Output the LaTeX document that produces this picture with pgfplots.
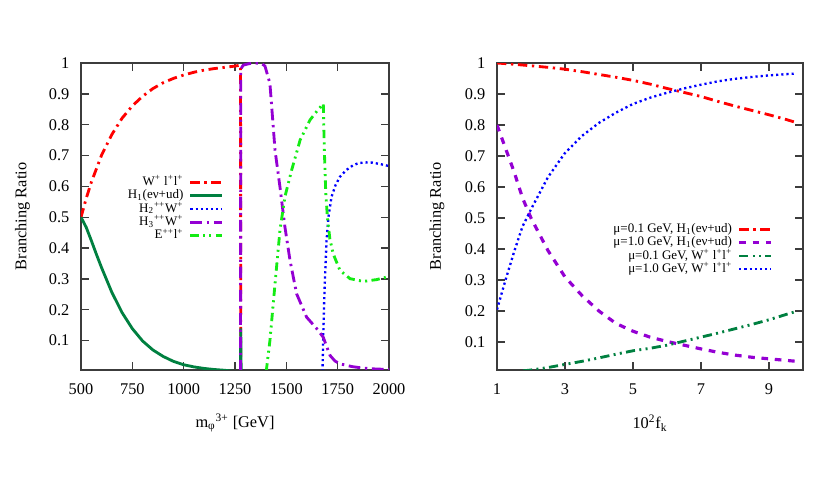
\documentclass[border=0pt]{standalone}
\usepackage{fontspec}
\setmainfont{Liberation Serif}
\usepackage{pgfplots}
\pgfplotsset{compat=1.18}

\definecolor{gpred}{RGB}{255,0,0}
\definecolor{gpdkgreen}{RGB}{0,128,64}
\definecolor{gpblue}{RGB}{0,0,255}
\definecolor{gpviolet}{RGB}{148,0,211}
\definecolor{gpgreen}{RGB}{20,235,20}
\definecolor{gpborder}{RGB}{60,60,60}

\tikzset{
  sred/.style={gpred, line width=1.7pt, dash pattern=on 5.6pt off 2.8pt on 1.4pt off 2.8pt},
  sdkgreen/.style={gpdkgreen, line width=1.7pt},
  sblue/.style={gpblue, line width=1.4pt, dash pattern=on 1.3pt off 1.8pt},
  sviolet/.style={gpviolet, line width=1.7pt, dash pattern=on 7pt off 2.8pt on 1.4pt off 2.8pt},
  sgreen/.style={gpgreen, line width=1.7pt, dash pattern=on 5pt off 2.6pt on 1.2pt off 2.6pt on 1.2pt off 2.6pt},
  svdash/.style={gpviolet, line width=1.9pt, dash pattern=on 4pt off 4pt},
  sdgdd/.style={gpdkgreen, line width=1.7pt, dash pattern=on 5.5pt off 2.6pt on 1.2pt off 2.6pt on 1.2pt off 2.6pt},
}

\pgfplotsset{
  gp/.style={
    scale only axis,
    ymin=0.01, ymax=1,
    ytick={0.1,0.2,0.3,0.4,0.5,0.6,0.7,0.8,0.9,1},
    yticklabels={0.1,0.2,0.3,0.4,0.5,0.6,0.7,0.8,0.9,1},
    tick align=inside,
    major tick length=4.8pt,
    axis line style={gpborder, line width=1pt},
    every tick/.style={gpborder, line width=0.8pt},
    tick label style={font=\fontsize{9.8}{11}\selectfont},
    xticklabel style={yshift=-4.5pt},
    yticklabel style={xshift=-3.5pt},
    label style={font=\fontsize{9.8}{11}\selectfont},
    ylabel={Branching Ratio},
    ylabel style={at={(axis description cs:-0.19,0.5)}, anchor=center},
    xlabel style={at={(axis description cs:0.5,-0.173)}, anchor=center},
    legend cell align=right,
    legend plot pos=right,
    legend style={draw=none, fill=none, font=\fontsize{7.8}{8}\selectfont,
      row sep=0pt, column sep=3pt,
      nodes={inner sep=0.4pt, text height=5.5pt, text depth=1.7pt}},
    legend image code/.code={\draw[##1] (0pt,0pt) -- (19pt,0pt);},
  }
}

\begin{document}
\begin{tikzpicture}
\path[use as bounding box] (0,0) rectangle (498pt,298.8pt);

\begin{axis}[gp,
  at={(48.6pt,76.8pt)}, anchor=south west,
  width=184.8pt, height=184.2pt,
  ymin=0.005,
  xmin=500, xmax=2000,
  xtick={500,750,1000,1250,1500,1750,2000},
  xticklabels={500,750,1000,1250,1500,1750,2000},
  xlabel={m\textsubscript{φ}\textsuperscript{3+} [GeV]},
  legend style={at={(0.48,0.645)}, anchor=north east},
]
% W+ l+ l+
\addplot[sred] coordinates {
  (500,0.50) (525,0.56) (550,0.613) (600,0.701) (650,0.768) (700,0.821)
  (750,0.861) (800,0.892) (850,0.917) (900,0.936) (950,0.950) (1000,0.961)
  (1050,0.970) (1100,0.977) (1150,0.982) (1200,0.986) (1250,0.990)
  (1277,0.993) (1278,0.0)
};
% H1(e nu + ud)
\addplot[sdkgreen] coordinates {
  (500,0.50) (525,0.468) (550,0.425) (575,0.380) (600,0.337) (650,0.257)
  (700,0.191) (750,0.139) (800,0.099) (850,0.070) (900,0.049) (950,0.033)
  (1000,0.022) (1050,0.015) (1100,0.010) (1150,0.0065) (1200,0.004)
  (1250,0.0) (1277,0.0) (1278,0.14) (1280,0.0)
};
% H2++ W+
\addplot[sblue] coordinates {
  (1676,0.0) (1680,0.12) (1684,0.22) (1688,0.30) (1696,0.425) (1705,0.50)
  (1720,0.566) (1740,0.605) (1761,0.631) (1790,0.652) (1826,0.669)
  (1850,0.675) (1883,0.678) (1920,0.677) (1960,0.672) (2000,0.666)
};
% H3++ W+
\addplot[sviolet] coordinates {
  (1277,0.0) (1278,0.98) (1290,0.993) (1320,0.998) (1350,1.0) (1380,0.998)
  (1396,0.99) (1420,0.934) (1445,0.717) (1469,0.598) (1493,0.469)
  (1518,0.36) (1550,0.252) (1599,0.176) (1648,0.139) (1680,0.111)
  (1697,0.08) (1713,0.052) (1737,0.034) (1761,0.025) (1820,0.016)
  (1875,0.011) (1940,0.008) (2000,0.007)
};
% E++ l+
\addplot[sgreen] coordinates {
  (1402,0.0) (1420,0.10) (1445,0.285) (1469,0.458) (1493,0.566) (1526,0.653)
  (1567,0.75) (1615,0.815) (1650,0.845) (1672,0.862) (1680,0.868)
  (1685,0.72) (1692,0.58) (1700,0.50) (1712,0.43) (1728,0.382)
  (1761,0.328) (1810,0.301) (1875,0.292) (1940,0.298) (2000,0.308)
};
\legend{W\textsuperscript{+} l\textsuperscript{+}l\textsuperscript{+},
  H\textsubscript{1}(eν+ud),
  H\textsubscript{2}\textsuperscript{++}W\textsuperscript{+},
  H\textsubscript{3}\textsuperscript{++}W\textsuperscript{+},
  E\textsuperscript{++}l\textsuperscript{+}}
\end{axis}

\begin{axis}[gp,
  at={(298.2pt,76.8pt)}, anchor=south west,
  width=183.6pt, height=184.2pt,
  xmin=1, xmax=10,
  xtick={1,3,5,7,9},
  xticklabels={1,3,5,7,9},
  xlabel={10\textsuperscript{2}f\textsubscript{k}},
  ylabel style={at={(axis description cs:-0.196,0.5)}},
  legend style={at={(0.918,0.492)}, anchor=north east},
]
% mu=0.1 GeV, H1
\addplot[sred] coordinates {
  (1,1.0) (1.5,0.996) (2,0.991) (2.5,0.986) (3,0.98) (3.5,0.972) (4,0.963)
  (4.5,0.954) (5,0.944) (5.5,0.932) (6,0.918) (6.5,0.905) (7,0.892)
  (7.5,0.876) (8,0.861) (8.5,0.847) (9,0.833) (9.5,0.818) (9.8,0.808)
};
% mu=1.0 GeV, H1
\addplot[svdash] coordinates {
  (1,0.80) (1.25,0.725) (1.5,0.65) (1.75,0.565) (2,0.50) (2.5,0.395)
  (3,0.31) (3.5,0.25) (4,0.20) (4.5,0.16) (5,0.135) (5.5,0.116)
  (6,0.102) (6.5,0.09) (7,0.078) (7.5,0.067) (8,0.058) (8.5,0.051)
  (9,0.046) (9.5,0.041) (9.8,0.038)
};
% mu=0.1 GeV, W+ l+ l+
\addplot[sdgdd] coordinates {
  (1,0.0) (1.5,0.004) (2,0.01) (2.5,0.018) (3,0.028) (3.5,0.038) (4,0.049)
  (4.5,0.061) (5,0.072) (5.5,0.08) (6,0.09) (6.5,0.103) (7,0.116)
  (7.5,0.129) (8,0.143) (8.5,0.157) (9,0.172) (9.5,0.189) (9.8,0.199)
};
% mu=1.0 GeV, W+ l+ l+
\addplot[sblue] coordinates {
  (1,0.205) (1.25,0.30) (1.5,0.39) (1.75,0.473) (2,0.528) (2.5,0.632)
  (3,0.71) (3.5,0.765) (4,0.807) (4.5,0.84) (5,0.868) (5.5,0.888)
  (6,0.904) (6.5,0.918) (7,0.93) (7.5,0.941) (8,0.949) (8.5,0.955)
  (9,0.96) (9.5,0.964) (9.8,0.966)
};
\legend{μ=0.1 GeV{,} H\textsubscript{1}(eν+ud),
  μ=1.0 GeV{,} H\textsubscript{1}(eν+ud),
  μ=0.1 GeV{,} W\textsuperscript{+} l\textsuperscript{+}l\textsuperscript{+},
  μ=1.0 GeV{,} W\textsuperscript{+} l\textsuperscript{+}l\textsuperscript{+}}
\end{axis}
\end{tikzpicture}
\end{document}
